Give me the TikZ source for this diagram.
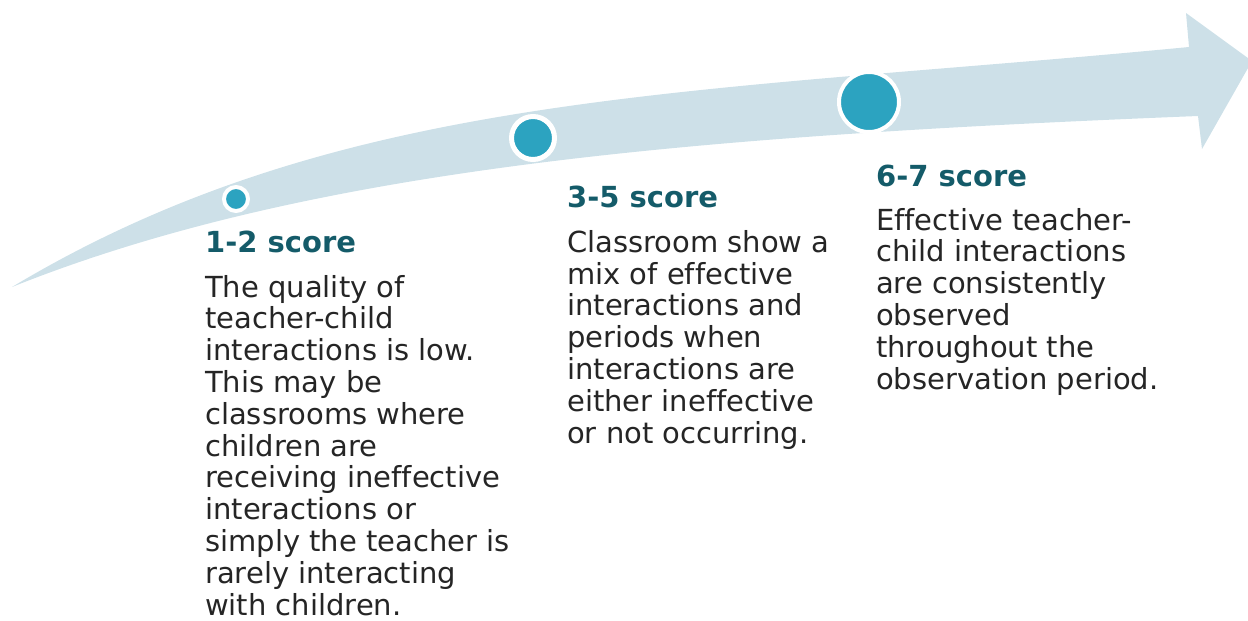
\documentclass[tikz,border=0pt]{standalone}
\usepackage{fontspec}
\setmainfont{DejaVu Sans}[Ligatures=NoCommon]
\begin{document}
\begin{tikzpicture}[x=1pt,y=-1pt,
  band/.style={fill=bandblue,draw=none},
  dot/.style={circle,fill=dotblue,draw=white,inner sep=0pt},
  heading/.style={anchor=base west,inner sep=0pt,font=\fontsize{29}{31.8}\selectfont\bfseries,text=headteal},
  body/.style={anchor=base west,inner sep=0pt,align=left,font=\fontsize{29}{31.8}\selectfont,text=bodygray}]
\definecolor{bandblue}{HTML}{CDE0E8}
\definecolor{dotblue}{HTML}{2CA3C0}
\definecolor{headteal}{HTML}{145B69}
\definecolor{bodygray}{HTML}{252525}
\useasboundingbox (0,0) rectangle (1248,621);
\clip (0,0) rectangle (1248,621);

% curved progress arrow
\fill[band] (12,287) .. controls (342,89) and (689,95) .. (1189,47)
  -- (1186,13) -- (1252,61) -- (1202,149) -- (1198,116)
  .. controls (698,136) and (312,167) .. (12,287) -- cycle;

% score markers along the arrow
\node[dot,minimum size=24pt,line width=4pt] (d1) at (236,199) {};
\node[dot,minimum size=43pt,line width=5pt] (d2) at (533,138) {};
\node[dot,minimum size=60pt,line width=4pt] (d3) at (869,102) {};

% column 1 (multi-line nodes sit on the baseline of their last line)
\node[heading] (h1) at (205,252) {1-2 score};
\node[body] (t1) at (205,615) {The quality of\\teacher-child\\interactions is low.\\This may be\\classrooms where\\children are\\receiving ineffective\\interactions or\\simply the teacher is\\rarely interacting\\with children.};

% column 2
\node[heading] (h2) at (567,207) {3-5 score};
\node[body] (t2) at (567,443) {Classroom show a\\mix of effective\\interactions and\\periods when\\interactions are\\either ineffective\\or not occurring.};

% column 3
\node[heading] (h3) at (876,186) {6-7 score};
\node[body] (t3) at (876,389) {Effective teacher-\\child interactions\\are consistently\\observed\\throughout the\\observation period.};
\end{tikzpicture}
\end{document}
